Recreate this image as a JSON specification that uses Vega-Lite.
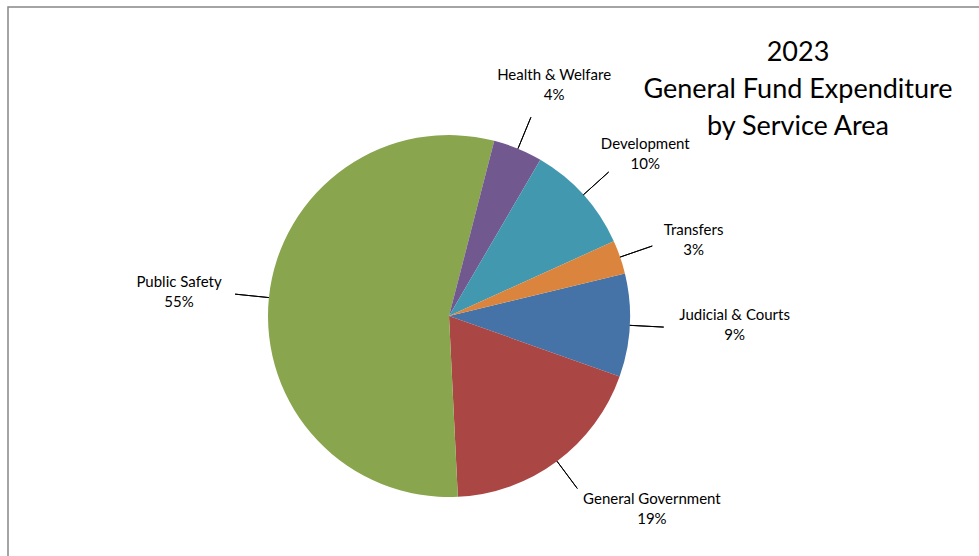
{
  "$schema": "https://vega.github.io/schema/vega-lite/v6.json",
  "width": 990,
  "height": 560,
  "autosize": {"type": "none"},
  "padding": {"left": 8, "top": 7, "right": 0, "bottom": 0},
  "background": "white",
  "view": {"stroke": "#878787", "strokeWidth": 1.5, "fill": "white"},
  "config": {"view": {"stroke": "#878787", "strokeWidth": 1.5}},
  "title": {
    "text": ["2023", "General Fund Expenditure", "by Service Area"],
    "font": "Lato",
    "fontSize": 27,
    "fontWeight": "normal",
    "color": "black",
    "lineHeight": 37,
    "anchor": "middle",
    "frame": "group",
    "orient": "top",
    "baseline": "top",
    "offset": 0,
    "dx": 295,
    "dy": 134
  },
  "data": {
    "values": [
      {"area": "Judicial & Courts", "share": 0.092},
      {"area": "General Government", "share": 0.188},
      {"area": "Public Safety", "share": 0.548},
      {"area": "Health & Welfare", "share": 0.044},
      {"area": "Development", "share": 0.098},
      {"area": "Transfers", "share": 0.030}
    ]
  },
  "transform": [
    {"window": [{"op": "row_number", "as": "k"}]},
    {"stack": "share", "groupby": [], "sort": [{"field": "k", "order": "ascending"}], "as": ["s0", "s1"]},
    {"calculate": "(datum.s0 + datum.s1) / 2", "as": "mid"},
    {"calculate": "1.3334 + datum.mid * 2 * PI", "as": "ang"}
  ],
  "layer": [
    {
      "mark": {"type": "arc", "x": 441, "y": 309, "outerRadius": 181},
      "encoding": {
        "theta": {"field": "s0", "type": "quantitative", "stack": null, "scale": {"domain": [0, 1], "range": [1.3334, 7.6166]}},
        "theta2": {"field": "s1"},
        "color": {
          "field": "area", "type": "nominal", "legend": null,
          "scale": {
            "domain": ["Judicial & Courts", "General Government", "Public Safety", "Health & Welfare", "Development", "Transfers"],
            "range": ["#4572A7", "#AA4643", "#89A54E", "#71588F", "#4198AF", "#DB843D"]
          }
        }
      }
    },
    {
      "mark": {"type": "arc", "x": 441, "y": 309, "radius": 215, "radius2": 181, "fill": "transparent", "stroke": "black", "strokeWidth": 1},
      "encoding": {
        "theta": {"field": "mid", "type": "quantitative", "stack": null},
        "theta2": {"field": "mid"}
      }
    },
    {
      "mark": {
        "type": "text", "x": 441, "y": 309, "radius": 215, "font": "Lato", "fontSize": 15, "color": "black",
        "align": "center", "baseline": "middle",
        "dx": {"expr": "(sin(datum.ang) < 0 ? -1 : 1) * (length(datum.area) * 3.7 + 8) * (cos(datum.ang) > 0 ? min(1, sin(datum.ang) * sin(datum.ang) + 0.2) : 1)"},
        "dy": {"expr": "-cos(datum.ang) * abs(cos(datum.ang)) * 35 - 12"}
      },
      "encoding": {
        "theta": {"field": "mid", "type": "quantitative", "stack": null},
        "text": {"field": "area", "type": "nominal"}
      }
    },
    {
      "mark": {
        "type": "text", "x": 441, "y": 309, "radius": 215, "font": "Lato", "fontSize": 15, "color": "black",
        "align": "center", "baseline": "middle",
        "dx": {"expr": "(sin(datum.ang) < 0 ? -1 : 1) * (length(datum.area) * 3.7 + 8) * (cos(datum.ang) > 0 ? min(1, sin(datum.ang) * sin(datum.ang) + 0.2) : 1)"},
        "dy": {"expr": "-cos(datum.ang) * abs(cos(datum.ang)) * 35 + 8"}
      },
      "encoding": {
        "theta": {"field": "mid", "type": "quantitative", "stack": null},
        "text": {"field": "share", "type": "quantitative", "format": ".0%"}
      }
    }
  ]
}
